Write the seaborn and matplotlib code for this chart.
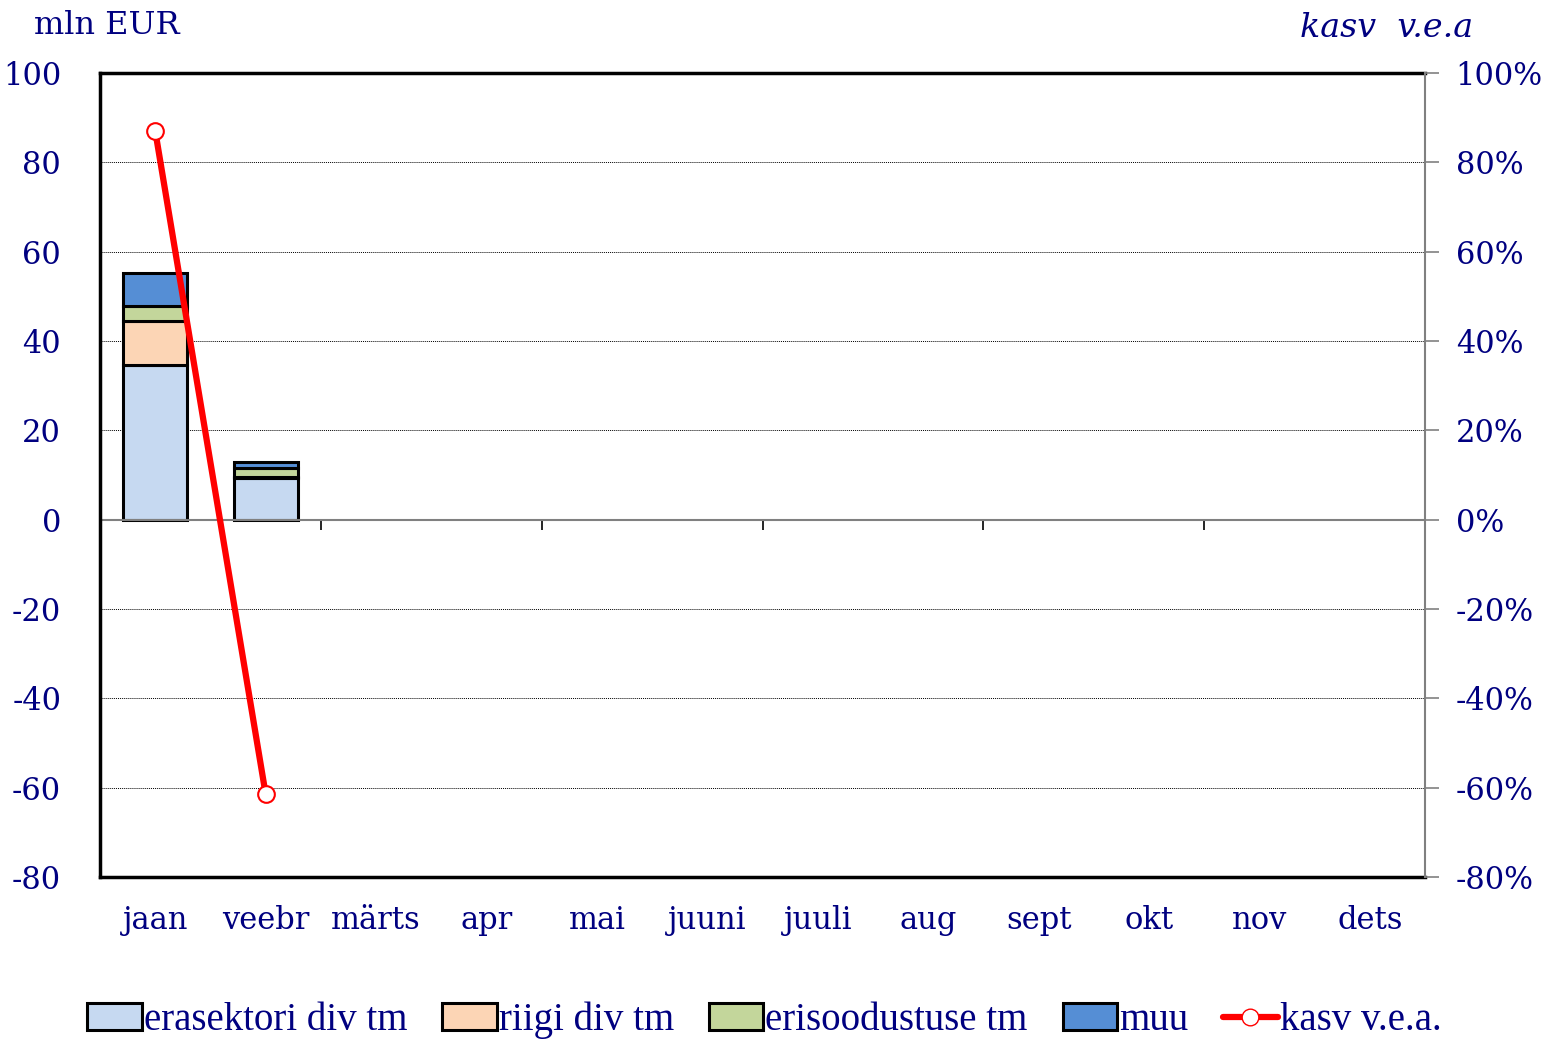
import numpy as np
import pandas as pd
import matplotlib
matplotlib.use('Agg')
import matplotlib.pyplot as plt
import seaborn as sns
from matplotlib.patches import Patch
from matplotlib.lines import Line2D

# andmed
kuud = ['jaan', 'veebr', 'märts', 'apr', 'mai', 'juuni', 'juuli', 'aug', 'sept', 'okt', 'nov', 'dets']
kuud_andmetega = ['jaan', 'veebr']
erasektori = [34.7, 9.4]
riigi = [9.8, 0.2]
erisoodustuse = [3.4, 1.9]
muu = [7.4, 1.5]
kasv = [87.0, -61.5]

nimed = ['erasektori div tm', 'riigi div tm', 'erisoodustuse tm', 'muu']
varvid = ['#C6D9F1', '#FCD5B5', '#C3D69B', '#558ED5']
tekst = '#000080'

sns.set_style('white')
plt.rcParams['font.family'] = ['DejaVu Serif']
plt.rcParams['axes.unicode_minus'] = False

fig = plt.figure(figsize=(15.44, 10.49), dpi=100)
ax = fig.add_axes([0.0648, 0.164, 0.8582, 0.7664])

df = pd.DataFrame({'kuu': kuud_andmetega, 'erasektori': erasektori, 'riigi': riigi,
                   'erisoodustuse': erisoodustuse, 'muu': muu})

pohi = np.zeros(len(df))
for veerg, nimi, v in zip(['erasektori', 'riigi', 'erisoodustuse', 'muu'], nimed, varvid):
    sns.barplot(data=df, x='kuu', y=veerg, order=kuud, color=v, width=0.58,
                bottom=pohi, edgecolor='black', linewidth=2.2, saturation=1, ax=ax)
    pohi = pohi + df[veerg].values

ax.set_ylim(-80, 100)
ax.set_xlim(-0.5, 11.5)
ax.set_yticks(np.arange(-80, 101, 20))
ax.yaxis.grid(True, color='black', linestyle=(0, (1, 1)), linewidth=0.7)
ax.axhline(0, color='#808080', linewidth=1.5, zorder=1)
ax.set_xlabel('')
ax.set_ylabel('')
ax.tick_params(axis='y', labelsize=22, labelcolor=tekst, length=0, pad=28)
ax.tick_params(axis='x', labelsize=22, labelcolor=tekst, length=0, pad=20)
for s in ['left', 'top', 'bottom']:
    ax.spines[s].set_color('black')
    ax.spines[s].set_linewidth(2.5)
ax.spines['right'].set_visible(False)

# x-telje kriipsud nulljoonel
sec = ax.secondary_xaxis(80 / 180)
sec.set_xticks([1.5, 3.5, 5.5, 7.5, 9.5, 11.5])
sec.set_xticklabels([])
sec.tick_params(direction='out', length=7, width=1.2, color='black')
sec.spines['bottom'].set_visible(False)

# parem telg
ax2 = ax.twinx()
sns.lineplot(x=[0, 1], y=kasv, color='red', linewidth=4.5, marker='o', markersize=12,
             markerfacecolor='white', markeredgecolor='red', markeredgewidth=1.5, ax=ax2, zorder=5)
ax2.set_ylim(-80, 100)
ax2.set_yticks(np.arange(-80, 101, 20))
ax2.set_yticklabels([f'{t}%' for t in range(-80, 101, 20)])
ax2.tick_params(axis='y', labelsize=22, labelcolor=tekst, direction='out', length=10,
                width=1.2, color='#808080', pad=12)
for s in ['left', 'top', 'bottom']:
    ax2.spines[s].set_visible(False)
ax2.spines['right'].set_color('#808080')
ax2.spines['right'].set_linewidth(1.5)
ax2.set_xlim(-0.5, 11.5)

fig.text(0.022, 0.976, 'mln EUR', fontsize=23, color=tekst, va='center', ha='left')
fig.text(0.954, 0.973, 'kasv  v.e.a', fontsize=24, color=tekst, va='center', ha='right', style='italic')

kasitsejad = [Patch(facecolor=v, edgecolor='black', linewidth=2.2) for v in varvid]
kasitsejad.append(Line2D([0], [0], color='red', linewidth=4.5, marker='o', markersize=12,
                         markerfacecolor='white', markeredgecolor='red'))
leg = fig.legend(kasitsejad, nimed + ['kasv v.e.a.'], loc='lower center', ncol=5,
                 bbox_to_anchor=(0.495, -0.024), frameon=False,
                 handlelength=1.4, handletextpad=0.05, columnspacing=0.9,
                 prop={'family': 'Liberation Serif', 'size': 28})
for t in leg.get_texts():
    t.set_color(tekst)

fig.savefig('out.png', dpi=100)
